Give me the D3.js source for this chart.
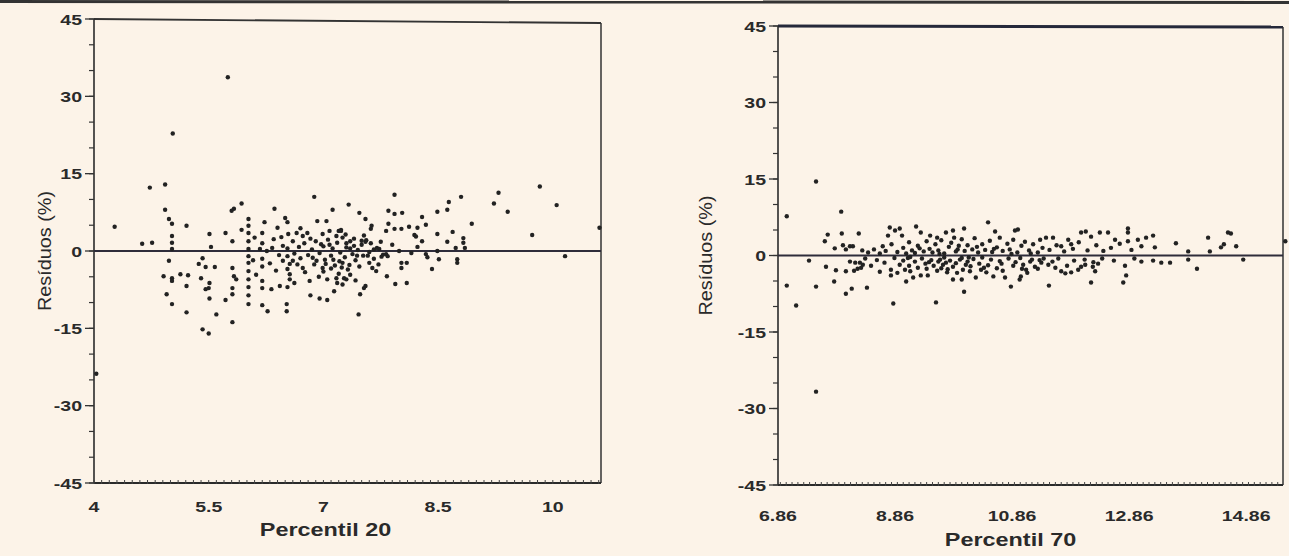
<!DOCTYPE html>
<html>
<head>
<meta charset="utf-8">
<script src="https://cdn.jsdelivr.net/npm/d3@7/dist/d3.min.js"></script>
<style>
body{margin:0;background:#fcf3e8;}
svg text{font-family:"Liberation Sans",Arial,sans-serif;fill:#2a2a2a;}
</style>
</head>
<body>
<svg id="chart" width="1289" height="556"></svg>
<script>
// residual axis (shared by both panels)
var residTicks = [-45, -30, -15, 0, 15, 30, 45];
var p20Ticks = [4, 5.5, 7, 8.5, 10];
var p70Ticks = [6.86, 8.86, 10.86, 12.86, 14.86];
var yLabel = "Resíduos (%)";

// Percentil 20 vs residual
var p20Points = [
    [4.03,-23.8],[4.27,4.7],[4.63,1.4],[4.76,1.6],[4.73,12.3],[4.93,12.9],[5.75,33.7],[5.03,22.8],
    [4.93,8.0],[4.98,6.2],[5.02,5.3],[5.21,4.9],[5.02,2.9],[5.02,1.6],[5.02,0.4],[4.98,-1.9],
    [4.91,-4.9],[5.02,-5.3],[5.02,-5.8],[5.13,-4.5],[5.23,-4.7],[5.21,-6.8],[4.95,-8.4],[5.02,-10.3],[5.21,-11.9],
    [5.42,-15.2],[5.5,-16.0],[5.6,-12.3],[5.81,-13.8],[5.37,-2.5],[5.46,-3.1],[5.58,-3.1],[5.42,-1.4],
    [5.40,-5.3],[5.51,-6.2],[5.50,-7.2],[5.46,-7.4],[5.51,-9.2],[5.72,-9.5],[5.51,3.3],[5.53,0.8],[5.72,3.5],
    [5.80,7.8],[5.83,8.2],[5.93,9.2],[5.93,4.1],[5.81,1.9],[5.81,-3.3],[5.83,-4.9],[5.86,-5.5],[5.81,-7.2],[5.81,-8.4],
    [6.02,6.2],[6.02,4.9],[6.02,3.5],[6.02,1.9],[6.02,0.4],[6.02,-1.0],[6.02,-2.3],[6.02,-3.9],[6.02,-5.5],[6.02,-7.0],[6.02,-8.6],[6.02,-10.3],
    [6.23,5.6],[6.36,8.2],[6.5,6.4],[6.53,5.6],[6.2,3.5],[6.4,4.5],[6.54,3.3],[6.6,1.9],[6.47,1.0],[6.65,3.5],[6.73,2.9],[6.79,3.5],
    [6.88,10.5],[6.92,5.8],[7.04,5.8],[7.12,8.0],[6.99,3.3],[7.08,3.9],[7.2,3.9],[7.23,4.1],
    [6.17,0.4],[6.26,0],[6.33,0.6],[6.47,-1.9],[6.56,-2.5],[6.56,-4.5],[6.56,-5.5],[6.2,-5.8],[6.2,-7.2],[6.32,-7.4],
    [6.2,-10.5],[6.27,-11.7],[6.52,-10.3],[6.52,-11.7],[6.43,-6.8],[6.73,-3.3],[6.82,-5.8],[6.83,-8.6],[6.95,-9.2],[7.05,-9.5],
    [7.05,-5.5],[7.17,-5.3],[7.18,-6.2],[7.14,-7.8],[6.99,-3.3],[6.91,-1.9],
    [6.2,-1.5],[6.2,-3.0],[6.2,1.5],[6.53,-1.0],[6.53,-3.5],[6.53,-7.0],[6.53,0.5],
    [6.62,-0.5],[6.68,0.8],[6.7,-1.4],[6.75,1.5],[6.8,-0.8],[6.85,0.3],[6.88,-2.6],[6.9,1.9],[6.95,-0.4],[7.0,0.9],
    [7.02,-1.7],[7.06,2.2],[7.1,-0.9],[7.12,0.5],[7.15,-2.8],[7.18,1.6],[7.22,-0.3],[7.25,2.6],[7.28,-1.2],[7.3,0.7],
    [7.32,-3.6],[7.35,1.9],[7.38,-0.6],[7.4,2.4],[7.42,-1.8],[7.45,0.2],[7.5,1.2],[7.52,-0.9],[7.56,2.1],[7.6,-0.2],
    [7.62,1.5],[7.66,-1.5],[7.7,0.6],[7.75,1.8],[7.78,-0.7],
    [9.83,12.5],[9.29,11.3],[9.23,9.2],[9.41,7.6],[10.05,8.9],[9.73,3.1],[10.16,-1.0],[10.61,4.5],[8.80,10.5],[8.64,9.5],
    [8.62,8.0],[8.49,7.6],[8.94,5.3],[8.69,3.7],[8.83,2.5],[8.83,1.6],[8.85,0.6],[8.73,0.6],[8.75,-1.6],[8.75,-2.3],
    [8.62,1.8],[8.49,3.3],[8.34,5.1],[8.29,6.6],[8.23,4.5],[8.19,3.1],[8.21,2.8],[8.29,1.9],[8.49,0],[8.42,-3.5],
    [8.36,-1.2],[8.51,-1.6],[8.12,4.7],[8.02,4.3],[7.93,4.3],[8.03,7.4],[7.93,10.9],[7.93,7.2],[7.85,7.8],[7.47,7.4],
    [7.33,9.0],[7.55,6.2],[7.63,4.9],[7.62,4.3],[7.82,3.9],[7.85,5.3],[8.09,-2.3],[8.02,-2.3],[8.02,-3.3],[7.83,-4.9],
    [7.94,-6.4],[8.09,-6.2],[7.55,-6.8],[7.53,-7.2],[7.48,-8.4],[7.46,-12.3],[7.42,-5.7],[7.27,-5.3],[7.25,-2.3],[7.64,-3.3],
    [7.69,-3.9],[8.23,0.8],[8.15,-0.4],[7.99,0],[7.82,-0.6],[7.73,0.4],[8.34,-0.6],
    [7.5,2.0],[7.55,1.8],[7.3,1.5],[7.35,0.5],[7.44,-0.9],[7.58,-0.9],[7.66,0.3],[7.76,-1.1],[7.84,-1.0],
    [7.23,3.9],[7.21,-2.0],[7.3,-5.5],[7.0,-4.0],[7.1,-3.4],[7.2,-4.4],[7.25,-6.5],[7.35,-4.6],
    [6.08,-1.8],[6.1,2.6],[6.12,-4.6],[6.3,-2.4],[6.35,2.3],[6.38,-3.8],[6.42,-0.8],[6.45,2.7],[6.6,-1.9],[6.62,-6.2],
    [6.66,-2.6],[6.7,4.4],[6.76,-4.1],[6.83,2.4],[6.86,-1.3],[6.94,-5.0],[6.97,1.3],[7.03,-2.5],[7.08,1.2],[7.13,-1.7],
    [7.17,2.9],[7.24,-3.2],[7.29,3.2],[7.34,-2.7],[7.4,1.0],[7.47,-3.0],[7.53,3.0],[7.6,-2.3],[7.72,-2.6],[7.9,1.2]
];

// Percentil 70 vs residual
var p70Points = [
    [7.51,14.5],[7.01,7.7],[7.94,8.6],[7.71,4.1],[7.66,2.8],[7.95,4.3],[8.24,4.3],[7.83,1.4],[7.97,2.0],[8.09,1.8],[8.14,1.8],[8.02,1.2],
    [7.39,-1.0],[7.68,-2.2],[7.85,-2.9],[8.02,-3.1],[8.09,-1.2],[8.18,-1.4],[8.26,-1.4],[8.31,-1.8],[8.16,-3.0],[8.22,-2.6],[8.28,-2.4],
    [7.82,-5.1],[7.51,-6.1],[7.01,-5.9],[7.17,-9.8],[8.02,-7.5],[8.12,-6.5],[8.38,-6.3],[8.83,-9.4],[9.56,-9.2],[10.04,-7.1],[9.85,-4.7],[10.0,-4.7],
    [7.51,-26.7],
    [8.77,5.5],[8.86,4.9],[8.94,5.3],[8.98,3.9],[8.74,3.9],[9.22,5.7],[9.3,4.5],[9.46,3.9],[9.58,3.5],[9.73,4.5],[9.85,4.9],[9.87,3.5],
    [10.04,5.3],[10.45,6.5],[10.57,4.7],[10.91,4.9],[10.96,5.1],
    [8.79,-2.8],[8.94,-1.8],[9.03,-2.8],[9.12,-3.1],[9.17,-4.3],[9.3,-3.9],[9.42,-3.9],[9.05,-5.1],[8.79,-3.9],
    [9.63,-0.8],[9.73,-1.4],[9.68,-1.8],[9.97,-0.8],[10.07,-1.8],[10.02,-2.8],[10.14,-3.1],[10.24,-4.3],[10.33,-2.8],[10.42,-3.3],
    [10.54,-4.1],[10.74,-4.3],[10.84,-6.1],[11.01,-4.1],[10.99,-4.7],[11.1,-2.8],
    [8.3,1.0],[8.4,0.6],[8.5,1.2],[8.6,0.4],[8.65,1.8],[8.7,0.9],[8.8,2.2],[8.9,0.7],[9.0,1.5],[9.05,0.4],
    [9.1,2.6],[9.15,1.0],[9.2,0.5],[9.25,1.9],[9.35,0.8],[9.4,2.8],[9.45,1.3],[9.5,0.6],[9.55,2.2],[9.6,1.0],
    [9.65,3.0],[9.7,0.4],[9.78,1.7],[9.82,2.5],[9.9,0.8],[9.95,1.9],[10.0,3.2],[10.05,0.9],[10.1,2.0],[10.18,1.2],
    [10.22,3.4],[10.28,0.6],[10.35,2.2],[10.4,1.1],[10.48,2.9],[10.52,0.7],[10.6,1.6],[10.65,3.5],[10.7,0.9],[10.78,2.3],
    [10.82,1.2],[10.88,3.1],[10.95,0.6],[11.02,1.9],[11.08,2.7],[11.15,1.0],[11.22,2.2],[11.3,0.6],[11.38,1.5],[11.5,1.1],
    [11.62,2.0],[11.75,0.8],[11.9,1.3],[12.0,2.6],[12.15,1.0],[12.3,2.0],[12.42,0.9],[12.55,1.5],[12.7,2.3],[12.9,1.1],
    [8.35,-0.6],[8.45,-2.0],[8.55,-0.9],[8.6,-3.2],[8.68,-1.4],[8.85,-0.5],[8.9,-3.4],[9.0,-1.0],[9.08,-0.5],[9.1,-2.0],
    [9.2,-1.2],[9.25,-2.4],[9.32,-0.6],[9.38,-1.6],[9.4,-2.6],[9.48,-0.9],[9.52,-2.0],[9.58,-3.0],[9.6,-1.2],[9.65,-2.5],
    [9.7,-0.4],[9.75,-3.3],[9.8,-1.0],[9.85,-2.2],[9.9,-1.5],[9.92,-3.4],[10.0,-0.5],[10.1,-1.2],[10.15,-2.1],[10.2,-0.7],
    [10.3,-1.6],[10.35,-0.4],[10.45,-1.9],[10.5,-0.8],[10.6,-2.5],[10.65,-1.1],[10.7,-3.0],[10.8,-0.6],[10.88,-2.0],[10.92,-1.3],
    [11.0,-0.5],[11.05,-1.8],[11.12,-3.4],[11.2,-0.8],[11.3,-2.6],[11.4,-0.6],[11.55,-1.2],[11.65,-0.6],[11.8,-2.0],[11.92,-1.0],
    [12.1,-0.8],[12.25,-1.3],[12.4,-0.6],[12.6,-1.0],[12.95,-0.6],
    [11.34,3.1],[11.44,3.5],[11.56,3.5],[11.7,1.8],[11.82,3.1],[11.87,2.2],[12.04,4.5],[12.12,4.7],[12.21,3.7],[12.36,4.5],
    [12.5,4.5],[12.62,3.1],[12.84,5.3],[12.84,4.5],[12.84,2.8],[13.01,3.1],[13.15,3.5],[13.27,3.9],[13.07,1.8],[13.3,1.6],
    [13.66,2.4],[14.21,3.5],[14.55,4.5],[14.6,4.3],[14.48,2.2],[14.43,1.6],[14.69,1.8],[14.24,0.8],[13.87,0.8],[14.81,-0.8],
    [15.53,2.8],[14.02,-2.6],[13.87,-0.8],[13.07,-1.2],[13.27,-1.0],[13.41,-1.4],[13.56,-1.4],[12.79,-2.0],[12.81,-3.9],[12.76,-5.3],
    [12.21,-5.3],[11.49,-5.9],[12.28,-3.1],[12.24,-2.2],[12.33,-1.6],[12.04,-2.2],[11.99,-2.8],[12.11,-1.8],[11.87,-3.3],[11.77,-3.5],
    [11.7,-3.1],[11.6,-2.4],[11.48,-1.8],[11.36,-1.4],[11.25,-2.2],[11.17,-1.2],
    [9.12,-0.3],[9.28,1.4],[9.44,-1.3],[9.62,0.3],[9.76,-2.7],[9.93,1.2],[10.12,-0.4],[10.26,1.7],[10.38,-2.4],[10.55,1.3],
    [10.68,-1.6],[10.85,0.3],[11.03,-2.6],[11.18,0.4],[11.33,-0.9]
];

/**
 * One residual scatter panel
 */
function ResidualPanel(svg, cfg){
    var self = this;
    self.svg = svg;
    self.cfg = cfg;
    self.init();
};

ResidualPanel.prototype.init = function(){
    var self = this;
    var c = self.cfg;
    self.g = self.svg.append("g");
    self.x = d3.scaleLinear().domain(c.xDomain).range([c.left, c.right]);
    self.y = d3.scaleLinear().domain([-45, 45]).range([c.bottom, c.top]);
};

// stretch text horizontally, the scanned font is a wide one
function widen(sel, k){
    sel.each(function(){
        var len = this.getComputedTextLength();
        d3.select(this).attr("textLength", len * k).attr("lengthAdjust", "spacingAndGlyphs");
    });
}

ResidualPanel.prototype.draw = function(points, xTicks, xTitle){
    var self = this;
    var c = self.cfg;
    var g = self.g;
    var x = self.x, y = self.y;

    // frame
    g.append("line").attr("x1", c.left).attr("x2", c.right).attr("y1", c.topL).attr("y2", c.topR)
        .attr("stroke", c.topColor).attr("stroke-width", c.topWidth);
    g.append("line").attr("x1", c.right).attr("x2", c.right).attr("y1", c.topR).attr("y2", c.bottom)
        .attr("stroke", "#333").attr("stroke-width", 1.5);
    g.append("line").attr("x1", c.left).attr("x2", c.right).attr("y1", c.bottom).attr("y2", c.bottom)
        .attr("stroke", "#2a2a2a").attr("stroke-width", 2);
    g.append("line").attr("x1", c.left).attr("x2", c.left).attr("y1", c.top).attr("y2", c.bottom)
        .attr("stroke", "#2a2a2a").attr("stroke-width", 1.6);

    // y ticks, minor every 5
    g.selectAll(".ymin").data(d3.range(-45, 46, 5)).enter().append("line")
        .attr("x1", c.left - 5).attr("x2", c.left)
        .attr("y1", d => y(d)).attr("y2", d => y(d))
        .attr("stroke", "#333").attr("stroke-width", 1.2);
    g.selectAll(".ymaj").data(residTicks).enter().append("line")
        .attr("x1", c.left - 9).attr("x2", c.left)
        .attr("y1", d => y(d)).attr("y2", d => y(d))
        .attr("stroke", "#333").attr("stroke-width", 1.3);
    var yt = g.selectAll(".ylab").data(residTicks).enter().append("text")
        .attr("x", c.left - 12).attr("y", d => y(d) + 5.5)
        .attr("text-anchor", "end")
        .style("font-size", "15px").style("font-weight", "bold")
        .text(d => d);
    widen(yt, 1.3);

    // x minor ticks along the bottom
    var step = 0.1;
    var mins = d3.range(Math.ceil(c.xDomain[0] / step), Math.floor(c.xDomain[1] / step) + 1).map(d => d * step);
    g.selectAll(".xmin").data(mins).enter().append("line")
        .attr("x1", d => x(d)).attr("x2", d => x(d))
        .attr("y1", c.bottom - 3).attr("y2", c.bottom + 1)
        .attr("stroke", "#444").attr("stroke-width", 1);
    var xt = g.selectAll(".xlab").data(xTicks).enter().append("text")
        .attr("x", d => x(d)).attr("y", c.bottom + c.xLabOff)
        .attr("text-anchor", "middle")
        .style("font-size", "15px").style("font-weight", "bold")
        .text(d => d);
    widen(xt, 1.3);

    // zero reference line
    g.append("line").attr("x1", c.left).attr("x2", c.right).attr("y1", y(0)).attr("y2", y(0))
        .attr("stroke", "#2e2c3a").attr("stroke-width", 2.2);

    // points
    g.selectAll(".pt").data(points).enter().append("circle")
        .attr("cx", d => x(d[0])).attr("cy", d => y(d[1]))
        .attr("r", 2.2).attr("fill", "#222");

    // axis titles
    var tt = g.append("text")
        .attr("x", (c.left + c.right) / 2 + c.titleShift).attr("y", c.bottom + c.titleOff)
        .attr("text-anchor", "middle")
        .style("font-size", "18px").style("font-weight", "bold")
        .text(xTitle);
    widen(tt, 1.3);
    var yl = g.append("text")
        .attr("transform", "translate(" + c.yTitleX + "," + y(0) + ") rotate(-90)")
        .attr("text-anchor", "middle")
        .style("font-size", "18px")
        .text(yLabel);
    widen(yl, 1.1);
};

var svg = d3.select("#chart");

// scanned page edge at the top
svg.append("line").attr("x1", 0).attr("x2", 1289).attr("y1", 1.5).attr("y2", 2.5)
    .attr("stroke", "#333").attr("stroke-width", 3);

var left = new ResidualPanel(svg, {
    left: 94, right: 601, top: 19, bottom: 483, topL: 19, topR: 23,
    xDomain: [4, 10.63], topColor: "#333", topWidth: 1.8,
    xLabOff: 29, titleOff: 53, titleShift: -22, yTitleX: 51
});
left.draw(p20Points, p20Ticks, "Percentil 20");

var right = new ResidualPanel(svg, {
    left: 778, right: 1283, top: 26, bottom: 485, topL: 26, topR: 27,
    xDomain: [6.86, 15.49], topColor: "#25283a", topWidth: 3,
    xLabOff: 36, titleOff: 61, titleShift: -20, yTitleX: 712
});
right.draw(p70Points, p70Ticks, "Percentil 70");
</script>
</body>
</html>
